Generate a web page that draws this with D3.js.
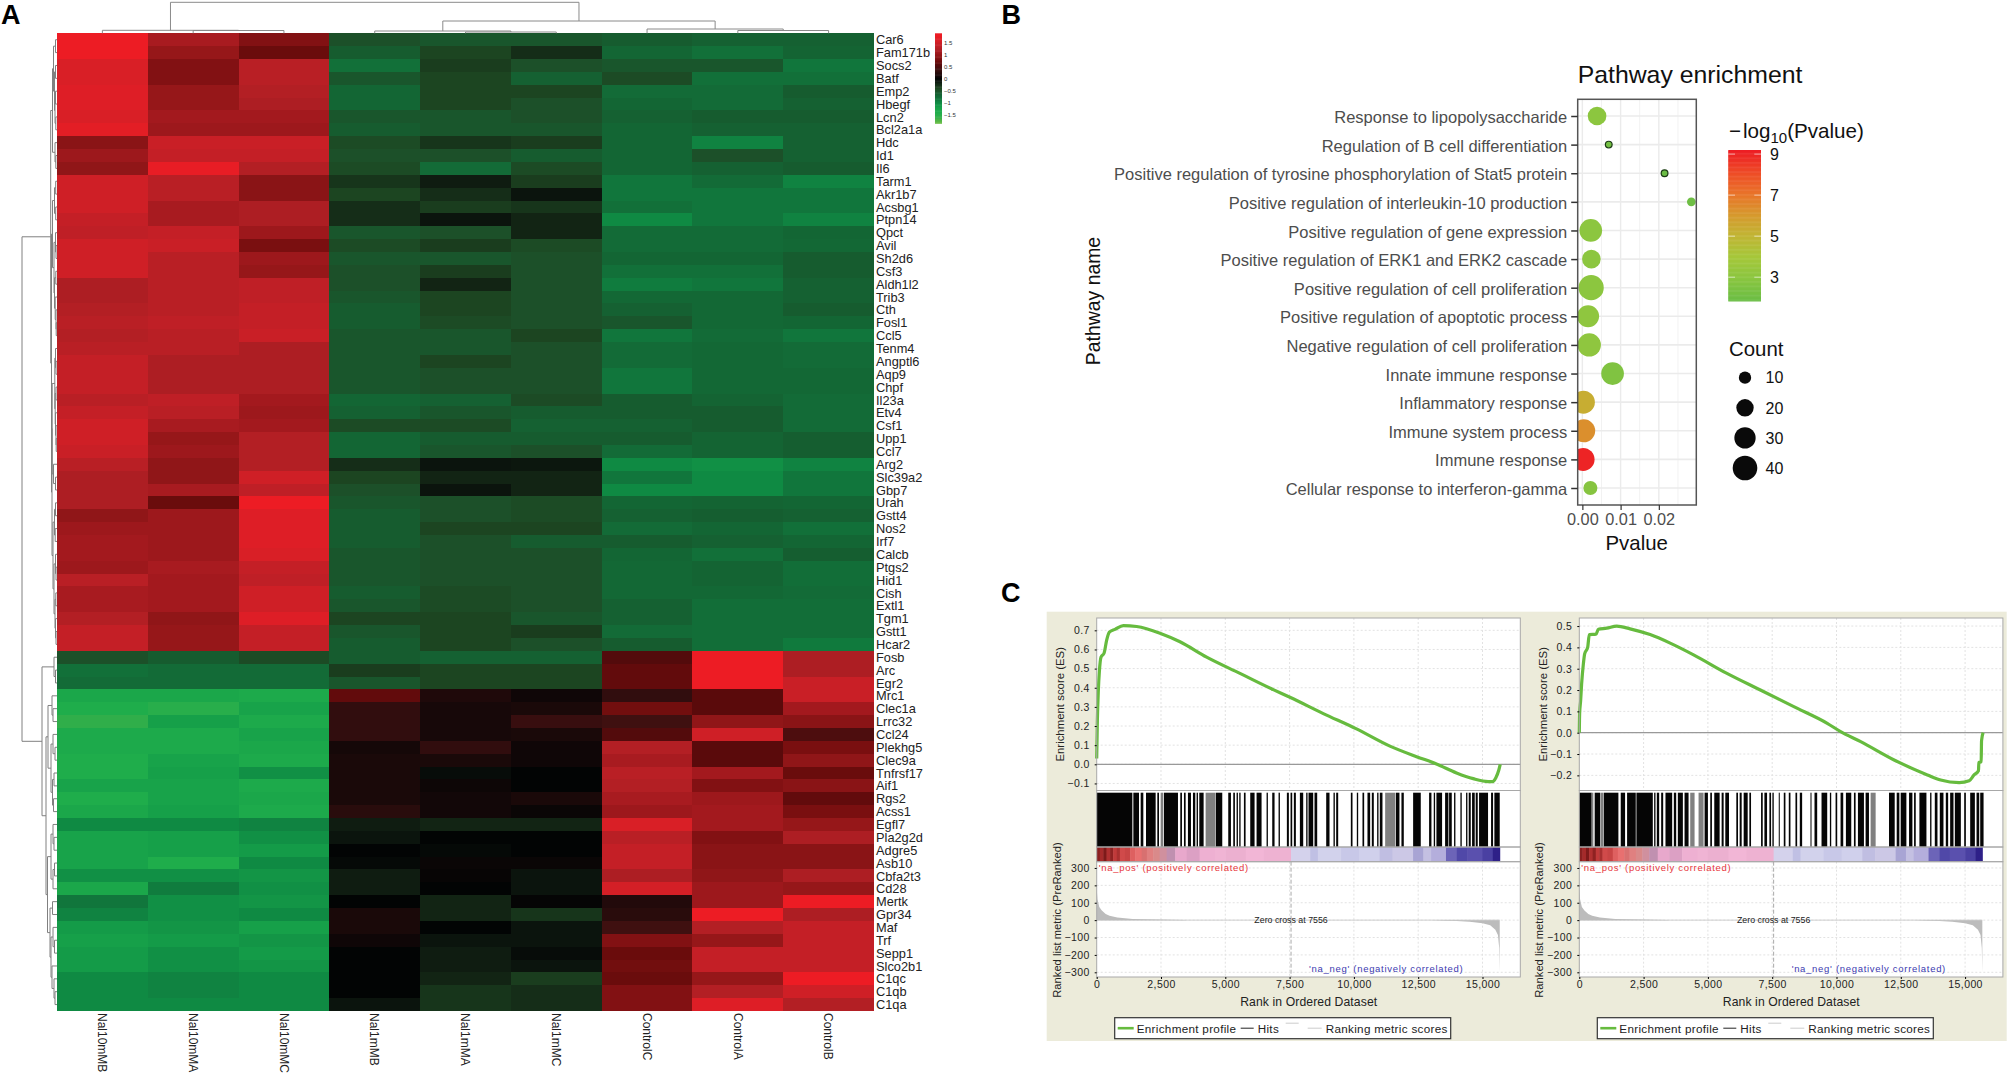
<!DOCTYPE html>
<html>
<head>
<meta charset="utf-8">
<title>Panels A B C</title>
<style>
  body { margin: 0; background: #fff; overflow: hidden; }
  text { font-family: "Liberation Sans", Arial, sans-serif; }
</style>
</head>
<body>
<div class="content"></div>
<script src="https://cdn.jsdelivr.net/npm/d3@7"></script>
<script>
//--> Panel A data
const samples = ["Nal10mMB", "Nal10mMA", "Nal10mMC", "Nal1mMB", "Nal1mMA", "Nal1mMC", "ControlC", "ControlA", "ControlB"];
const genes = ["Car6", "Fam171b", "Socs2", "Batf", "Emp2", "Hbegf", "Lcn2", "Bcl2a1a", "Hdc", "Id1", "Il6", "Tarm1", "Akr1b7", "Acsbg1", "Ptpn14", "Qpct", "Avil", "Sh2d6", "Csf3", "Aldh1l2", "Trib3", "Cth", "Fosl1", "Ccl5", "Tenm4", "Angptl6", "Aqp9", "Chpf", "Il23a", "Etv4", "Csf1", "Upp1", "Ccl7", "Arg2", "Slc39a2", "Gbp7", "Urah", "Gstt4", "Nos2", "Irf7", "Calcb", "Ptgs2", "Hid1", "Cish", "Extl1", "Tgm1", "Gstt1", "Hcar2", "Fosb", "Arc", "Egr2", "Mrc1", "Clec1a", "Lrrc32", "Ccl24", "Plekhg5", "Clec9a", "Tnfrsf17", "Aif1", "Rgs2", "Acss1", "Egfl7", "Pla2g2d", "Adgre5", "Asb10", "Cbfa2t3", "Cd28", "Mertk", "Gpr34", "Maf", "Trf", "Sepp1", "Slco2b1", "C1qc", "C1qb", "C1qa"];

// z-scores per sample, same order as genes
const nal10mMB = [1.8, 1.8, 1.6, 1.6, 1.65, 1.65, 1.6, 1.7, 0.9, 1.05, 0.95, 1.5, 1.5, 1.5, 1.4, 1.35, 1.5, 1.5, 1.5, 1.2, 1.2, 1.25, 1.3, 1.25,
  1.3, 1.4, 1.4, 1.4, 1.3, 1.4, 1.5, 1.5, 1.45, 1.3, 1.2, 1.2, 1.2, 0.95, 1.05, 1.1, 1.1, 1.05, 1.3, 1.15, 1.15, 1.25, 1.4, 1.4,
  -0.5, -0.8, -0.75, -1.3, -1.4, -1.6, -1.35, -1.35, -1.4, -1.4, -1.25, -1.4, -1.3, -1.0, -1.25, -1.25, -1.25, -1.05, -1.3, -0.85, -0.95, -1.15, -1.2, -1.15, -1.15, -1.0, -1.0, -1.0];
const nal10mMA = [1.15, 1.0, 0.85, 0.85, 1.0, 1.0, 1.1, 1.05, 1.45, 1.4, 1.75, 1.3, 1.3, 1.15, 1.15, 1.4, 1.45, 1.3, 1.3, 1.3, 1.3, 1.3, 1.35, 1.3,
  1.3, 1.2, 1.2, 1.2, 1.35, 1.3, 1.15, 1.0, 1.05, 0.95, 0.95, 1.15, 0.7, 1.05, 1.05, 1.05, 1.05, 1.15, 1.1, 1.1, 1.1, 0.95, 1.0, 1.0,
  -0.6, -0.75, -0.75, -1.3, -1.5, -1.2, -1.35, -1.35, -1.25, -1.2, -1.25, -1.25, -1.2, -1.0, -1.2, -1.2, -1.4, -1.05, -0.9, -1.05, -1.05, -1.1, -1.15, -1.05, -1.05, -0.95, -0.95, -1.0];
const nal10mMC = [0.85, 0.7, 1.3, 1.3, 1.25, 1.2, 1.1, 1.05, 1.45, 1.4, 1.25, 0.9, 0.9, 1.2, 1.2, 1.05, 0.8, 1.05, 1.0, 1.35, 1.35, 1.4, 1.4, 1.45,
  1.2, 1.2, 1.2, 1.2, 1.1, 1.05, 1.1, 1.25, 1.25, 1.25, 1.5, 1.35, 1.8, 1.65, 1.65, 1.65, 1.6, 1.4, 1.35, 1.5, 1.5, 1.65, 1.4, 1.4,
  -0.45, -0.75, -0.75, -1.35, -1.25, -1.35, -1.25, -1.3, -1.35, -1.05, -1.35, -1.3, -1.35, -0.95, -1.05, -1.15, -1.0, -1.1, -1.05, -1.1, -1.0, -1.2, -1.1, -1.15, -1.1, -1.0, -1.0, -1.0];
const nal1mMB = [-0.5, -0.6, -0.8, -0.55, -0.7, -0.7, -0.55, -0.6, -0.45, -0.5, -0.45, -0.3, -0.4, -0.25, -0.25, -0.55, -0.45, -0.55, -0.5, -0.5, -0.55, -0.6, -0.6, -0.55,
  -0.55, -0.55, -0.55, -0.55, -0.7, -0.65, -0.45, -0.7, -0.7, -0.25, -0.4, -0.5, -0.55, -0.6, -0.6, -0.6, -0.55, -0.55, -0.55, -0.6, -0.55, -0.4, -0.55, -0.6,
  -0.6, -0.35, -0.55, 0.65, 0.3, 0.3, 0.3, 0.12, 0.15, 0.15, 0.15, 0.15, 0.25, -0.15, -0.1, 0, -0.03, -0.15, -0.15, 0, 0.15, 0.15, 0.08, 0, 0, 0, 0, -0.1];
const nal1mMA = [-0.55, -0.4, -0.35, -0.4, -0.4, -0.4, -0.55, -0.55, -0.3, -0.5, -0.75, -0.15, -0.25, -0.35, -0.1, -0.5, -0.35, -0.55, -0.35, -0.2, -0.4, -0.4, -0.45, -0.55,
  -0.55, -0.4, -0.5, -0.5, -0.65, -0.55, -0.45, -0.6, -0.55, -0.1, -0.2, -0.1, -0.5, -0.5, -0.4, -0.5, -0.5, -0.5, -0.5, -0.45, -0.45, -0.4, -0.4, -0.4,
  -0.65, -0.4, -0.4, 0.18, 0.13, 0.13, 0.13, 0.3, 0.15, -0.05, 0.07, 0.1, 0.1, -0.2, 0, -0.03, 0.05, 0.03, 0, -0.2, -0.2, 0, -0.1, -0.15, -0.15, -0.2, -0.3, -0.3];
const nal1mMC = [-0.55, -0.25, -0.5, -0.65, -0.4, -0.5, -0.5, -0.55, -0.35, -0.6, -0.45, -0.35, -0.1, -0.3, -0.2, -0.2, -0.45, -0.5, -0.5, -0.5, -0.5, -0.5, -0.5, -0.4,
  -0.5, -0.5, -0.5, -0.5, -0.45, -0.6, -0.65, -0.6, -0.5, -0.12, -0.2, -0.2, -0.45, -0.45, -0.4, -0.6, -0.5, -0.5, -0.5, -0.5, -0.5, -0.55, -0.35, -0.5,
  -0.65, -0.4, -0.4, 0.08, 0.15, 0.35, 0.15, 0.08, 0.08, 0, 0, 0.15, 0.05, -0.2, 0, 0, 0.05, -0.1, -0.1, 0.02, -0.3, -0.1, -0.1, -0.05, -0.1, -0.35, -0.25, -0.25];
const controlC = [-0.6, -0.7, -0.55, -0.45, -0.75, -0.7, -0.65, -0.7, -0.7, -0.7, -0.7, -0.85, -0.85, -0.8, -1.0, -0.75, -0.75, -0.7, -0.8, -0.9, -0.72, -0.65, -0.55, -0.85,
  -0.75, -0.75, -0.85, -0.85, -0.6, -0.6, -0.65, -0.6, -0.75, -1.0, -0.85, -1.0, -0.7, -0.65, -0.75, -0.6, -0.7, -0.72, -0.72, -0.72, -0.65, -0.65, -0.75, -0.6,
  0.55, 0.65, 0.65, 0.3, 0.75, 0.4, 0.55, 1.25, 1.15, 1.3, 1.25, 1.15, 1.05, 1.6, 1.3, 1.4, 1.4, 1.2, 1.55, 0.2, 0.25, 0.4, 0.85, 0.7, 0.75, 0.7, 0.85, 0.85];
const controlA = [-0.65, -0.8, -0.55, -0.8, -0.75, -0.75, -0.6, -0.65, -0.95, -0.5, -0.65, -0.75, -0.85, -0.85, -0.85, -0.75, -0.75, -0.7, -0.8, -0.85, -0.72, -0.72, -0.72, -0.75,
  -0.72, -0.72, -0.72, -0.72, -0.68, -0.6, -0.6, -0.68, -0.68, -1.05, -1.0, -1.0, -0.68, -0.62, -0.7, -0.65, -0.8, -0.68, -0.68, -0.72, -0.78, -0.78, -0.78, -0.78,
  1.8, 1.8, 1.8, 0.6, 0.6, 0.95, 1.5, 0.6, 0.6, 1.1, 0.85, 1.05, 1.1, 1.1, 0.85, 0.9, 0.9, 0.95, 1.05, 1.05, 1.8, 1.25, 1.0, 1.4, 1.4, 1.0, 1.25, 1.65];
const controlB = [-0.65, -0.68, -0.85, -0.8, -0.6, -0.65, -0.6, -0.65, -0.65, -0.65, -0.6, -0.95, -0.85, -0.85, -0.95, -0.7, -0.72, -0.6, -0.6, -0.65, -0.65, -0.6, -0.7, -0.85,
  -0.75, -0.75, -0.72, -0.72, -0.75, -0.75, -0.75, -0.62, -0.62, -0.95, -0.85, -0.85, -0.7, -0.65, -0.8, -0.7, -0.62, -0.78, -0.78, -0.75, -0.78, -0.78, -0.78, -0.88,
  1.2, 1.2, 1.45, 1.45, 1.1, 0.9, 0.5, 0.8, 0.95, 0.7, 0.9, 0.65, 0.8, 1.0, 1.2, 0.9, 0.9, 1.2, 1.0, 1.8, 1.2, 1.4, 1.4, 1.4, 1.4, 1.8, 1.5, 1.25];
const sampleValues = [nal10mMB, nal10mMA, nal10mMC, nal1mMB, nal1mMA, nal1mMC, controlC, controlA, controlB];

// dendrograms: [merge height, left, right], a number is a leaf index
const sampleTree = [31, [3, 0, [2.8, 1, 2]], [12.3, [2.3, 3, [1.3, 4, 5]], [4.3, 6, [2.8, 7, 8]]]];
const rowsA = [3.5, [1.5, 0, 1], [2.5, [1.5, 2, 3], [2, [1.5, 4, 5], [1.2, 6, 7]]]];
const rowsB = [2, 8, [1.2, 9, 10]];
const rowsC = [2.5, [1.3, 11, 12], [1.3, 13, 14]];
const rowsD = [3, [1.5, 15, [1, 16, 17]], [2.5, [1.2, 18, 19], [1.8, 20, [1, 21, [0.8, 22, 23]]]]];
const rowsE = [2.2, [1.5, 24, [1, 25, 26]], [1.8, [1, 27, 28], [1.5, 29, [1, 30, [0.8, 31, 32]]]]];
const rowsF = [3.5, 33, [1.5, 34, 35]];
const rowsG = [4, [2.5, [1.5, 36, 37], [1.8, 38, 39]], [3, [1.5, 40, [1, 41, 42]], [2, [1.2, 43, 44], [1.5, 45, [1, 46, 47]]]]];
const rowsH = [3, 48, [1.5, 49, 50]];
const rowsP = [9, [5, 51, [4, 52, 53]], [6, [4, 54, [2, 55, 56]], [4.5, [3, 57, 58], [3.5, 59, 60]]]];
const rowsQ = [9.5, [6, [4, 61, [3, 62, 63]], [4, [2.5, 64, 65], 66]], [7, [4.5, 67, 68], [6, [4, 69, [2.5, 70, 71]], [5, 72, [3, 73, [2, 74, 75]]]]]];
const geneTree = [35,
  [6.3, [4.5, rowsA, rowsB], [5.5, [4.5, rowsC, rowsD], [5, [4.8, rowsE, rowsF], rowsG]]],
  [15, rowsH, [11, rowsP, rowsQ]]];

const heatTicks = [1.5, 1, 0.5, 0, -0.5, -1, -1.5];

//--> Panel B data
const pathways = ["Response to lipopolysaccharide", "Regulation of B cell differentiation", "Positive regulation of tyrosine phosphorylation of Stat5 protein", "Positive regulation of interleukin-10 production", "Positive regulation of gene expression", "Positive regulation of ERK1 and ERK2 cascade", "Positive regulation of cell proliferation", "Positive regulation of apoptotic process", "Negative regulation of cell proliferation", "Innate immune response", "Inflammatory response", "Immune system process", "Immune response", "Cellular response to interferon-gamma"];
const pValues = [0.00384, 0.0069, 0.0215, 0.0285, 0.0022, 0.00236, 0.0023, 0.0015, 0.0018, 0.0079, 0.00026, 0.00035, 0.00018, 0.0021];
const counts = [23, 3, 3, 5, 34, 23, 42, 32, 36, 34, 35, 35, 35, 13];
const logPs = [3, 2.2, 1.9, 2, 3, 3, 3, 3.1, 3.1, 2.6, 5.3, 6.3, 9, 2.8];
const countTicks = [10, 20, 30, 40];
const logTicks = [9, 7, 5, 3];

//--> Panel C data
const esTicksLeft = [0.7, 0.6, 0.5, 0.4, 0.3, 0.2, 0.1, 0, -0.1];
const esTicksRight = [0.5, 0.4, 0.3, 0.2, 0.1, 0, -0.1, -0.2];
const metricTicks = [300, 200, 100, 0, -100, -200, -300];
const rankTicks = [0, 2500, 5000, 7500, 10000, 12500, 15000];

const esLeftRanks = [0, 26, 65, 104, 168, 285, 390, 492, 712, 1036, 1554, 2460, 3238, 4275, 5570, 6865, 7513, 8810, 10100, 11400, 12435, 13210, 13990, 14640, 15220, 15390, 15520, 15635, 15690];
const esLeftScores = [0.03, 0.23, 0.39, 0.485, 0.56, 0.58, 0.65, 0.69, 0.705, 0.725, 0.72, 0.685, 0.64, 0.56, 0.475, 0.39, 0.35, 0.265, 0.185, 0.095, 0.04, 0.002, -0.045, -0.075, -0.09, -0.09, -0.07, -0.03, 0];
const esRightRanks = [0, 13, 52, 91, 156, 208, 325, 390, 650, 740, 1065, 1455, 1975, 2754, 3533, 4443, 5740, 7040, 8340, 9640, 10160, 10940, 12240, 13535, 14050, 14770, 15160, 15350, 15520, 15535, 15625, 15640, 15700];
const esRightScores = [0, 0.09, 0.15, 0.23, 0.32, 0.37, 0.4, 0.46, 0.462, 0.485, 0.49, 0.5, 0.487, 0.46, 0.42, 0.365, 0.278, 0.2, 0.122, 0.044, 0.005, -0.042, -0.128, -0.198, -0.222, -0.234, -0.225, -0.198, -0.178, -0.14, -0.136, -0.037, 0];

const hitsLeft = [[0, 1386], [1425, 1645], [1710, 1813], [1917, 2292], [2357, 2422], [2616, 3160], [3250, 3315], [3393, 3458], [3548, 3665], [3743, 3833], [3885, 3937], [3989, 4157], [4636, 4882], [5115, 5219], [5310, 5374], [5439, 5491], [5543, 5594], [5724, 5789], [5970, 6138], [6216, 6410], [6605, 6656], [6825, 6915], [7071, 7123], [7394, 7472], [7537, 7602], [7666, 7744], [7900, 8029], [8146, 8197], [8236, 8418], [8469, 8573], [8923, 9052], [9207, 9259], [9311, 9389], [9881, 9946], [10114, 10166], [10334, 10399], [10528, 10632], [10697, 10774], [10904, 10956], [11008, 11111], [11629, 11771], [11849, 11940], [12303, 12600], [12924, 13015], [13105, 13157], [13209, 13429], [13546, 13675], [13701, 13805], [13895, 13947], [14141, 14193], [14362, 14413], [14465, 14543], [14595, 14698], [14737, 14815], [14867, 15216], [15333, 15411], [15462, 15670]];
const hitsLeftGrey = [[2486, 2590], [4235, 4623], [11215, 11603]];
const hitsRight = [[0, 481], [598, 805], [961, 1520], [1611, 1780], [1858, 2195], [2221, 2858], [2910, 2962], [3014, 3105], [3183, 3261], [3351, 3611], [3676, 3767], [3832, 4027], [4092, 4248], [4871, 5001], [5092, 5157], [5248, 5456], [5534, 5612], [5677, 5820], [6105, 6170], [6235, 6313], [6391, 6547], [6612, 6677], [7067, 7132], [7197, 7300], [7391, 7456], [7508, 7560], [7755, 7794], [7950, 8015], [8145, 8210], [8405, 8470], [8573, 8664], [8989, 9028], [9145, 9249], [9418, 9639], [9743, 9795], [9964, 10028], [10158, 10262], [10366, 10574], [10678, 10743], [10834, 11067], [11132, 11262], [12042, 12263], [12341, 12444], [12496, 12717], [12821, 12951], [13016, 13081], [13224, 13497], [13640, 13692], [13822, 13926], [14016, 14159], [14250, 14341], [14419, 14549], [14601, 14835], [14965, 15030], [15198, 15380], [15445, 15549], [15588, 15718]];
const hitsRightGrey = [[481, 546], [818, 948], [4313, 4482], [4637, 4832], [11327, 11522]];

const metricRanks = [0, 30, 100, 200, 350, 500, 800, 1400, 2500, 3400, 3500, 13000, 13500, 14000, 14500, 15000, 15300, 15500, 15600, 15650, 15670];
const metricScores = [180, 120, 75, 55, 35, 25, 15, 7, 3, 1, 0, 0, -3, -5, -9, -18, -30, -55, -85, -160, -300];

// rank strip: a colour starts at each rank and runs up to the next one
const stripRanks = [0, 120, 260, 380, 520, 640, 780, 900, 1100, 1300, 1500, 1750, 1950, 2200, 2450, 2720, 3050, 3500, 4000, 4600, 5000, 5800, 6500, 7556, 8300, 8600, 9500, 10200, 11000, 11500, 12300, 12700, 13000, 13580, 14000, 14400, 15000, 15400, 15670];
const stripColors = ["#8a2020", "#a52a2a", "#7e1a1a", "#b03030", "#8f2222", "#c03a3a", "#a83030", "#d04a4a", "#c84545", "#de6060", "#e87070", "#d87070", "#e08080", "#d98a8a", "#d0909e", "#c090b0", "#e8a8cc", "#dca0c4", "#eeb0d2", "#f0b4d4", "#ecb0d0", "#f2b6d6", "#eeb2d2", "#d4d2ec", "#c0c0e4", "#d2d2ec", "#c8c8e8", "#d0d0ec", "#c0bee2", "#ccc8e6", "#a8a4d4", "#c4c0e2", "#b4aedc", "#6c64b8", "#5048a8", "#5a50ae", "#4a40a2", "#2e2088"];

//--> Constants
const width = 2008;
const height = 1076;
const heat = { left: 57, right: 874, top: 33.3, bottom: 1011 };
const bubble = { left: 1577.7, right: 1696.3, top: 99.3, bottom: 505 };

const svg = d3
  .select(".content")
  .append("svg")
  .attr("width", width)
  .attr("height", height);

//--> Helper functions
const addText = (parent, x, y, str, size, fill = "#000", anchor = "start") =>
  parent
    .append("text")
    .attr("x", x)
    .attr("y", y)
    .attr("font-size", size)
    .attr("fill", fill)
    .attr("text-anchor", anchor)
    .text(str);

const addVertical = (parent, x, y, str, size, fill = "#222") =>
  parent
    .append("text")
    .attr("transform", `translate(${x}, ${y}) rotate(-90)`)
    .attr("font-size", size)
    .attr("fill", fill)
    .attr("text-anchor", "middle")
    .text(str);

const treeRoot = tree =>
  d3.hierarchy(tree, d => (Array.isArray(d) ? d.slice(1) : null));

// links of a dendrogram, pos gives a leaf position
const treeSegments = (tree, pos) => {
  const root = treeRoot(tree);
  root.eachAfter(n => {
    n.pos = n.children ? d3.mean(n.children, c => c.pos) : pos(n.data);
    n.h = n.children ? n.data[0] : 0;
  });
  const segs = [];
  root.each(n => {
    if (!n.children) return;
    const [a, b] = n.children;
    segs.push([[a.pos, a.h], [a.pos, n.h], [b.pos, n.h], [b.pos, b.h]]);
  });
  return segs;
};

//--> Panel A: heat map
const panelA = svg.append("g");
const heatColor = d3
  .scaleLinear()
  .domain([-1.85, -1.6, -1.4, -1.2, -1, -0.9, -0.8, -0.7, -0.6, -0.5, -0.4, -0.3, -0.2, -0.1, 0, 0.2, 0.4, 0.6, 0.7, 0.8, 0.9, 1, 1.1, 1.2, 1.3, 1.4, 1.6, 1.8])
  .range(["#6abd45", "#30ae4a", "#1fad4b", "#16a049", "#0f8a43", "#107c3e", "#127039", "#136634", "#165c2f", "#1c5029", "#1c4521", "#17351b", "#122414", "#0b140d", "#020404", "#220a0b", "#3f1010", "#5a0a0b", "#6a0c0c", "#7a0f10", "#8a1416", "#961719", "#a3191e", "#ad1e23", "#b91f25", "#c41f26", "#d91f26", "#ed1c24"])
  .clamp(true);

const xHeat = d3.scaleBand().domain(samples).range([heat.left, heat.right]);
const yHeat = d3.scaleBand().domain(genes).range([heat.top, heat.bottom]);

panelA
  .selectAll("g.column")
  .data(samples)
  .enter()
  .append("g")
  .attr("class", "column")
  .each(function (s, i) {
    d3.select(this)
      .selectAll("rect")
      .data(genes)
      .enter()
      .append("rect")
      .attr("x", xHeat(s))
      .attr("y", d => yHeat(d))
      .attr("width", xHeat.bandwidth())
      .attr("height", yHeat.bandwidth())
      .attr("shape-rendering", "crispEdges")
      .attr("fill", (d, j) => heatColor(sampleValues[i][j]));
  });

genes.forEach(g => {
  addText(panelA, heat.right + 2, yHeat(g) + yHeat.bandwidth() / 2, g, 12.8, "#222").attr("dy", ".36em");
});

samples.forEach(s => {
  panelA
    .append("text")
    .attr("transform", `translate(${xHeat(s) + xHeat.bandwidth() / 2}, ${heat.bottom + 2}) rotate(90)`)
    .attr("dy", ".36em")
    .attr("font-size", 12)
    .attr("fill", "#222")
    .text(s);
});

//--> Panel A: dendrograms
const yTree = d3.scaleLinear().domain([0, 31]).range([heat.top, heat.top - 31]);
const xTree = d3.scaleLinear().domain([0, 35]).range([heat.left, heat.left - 35]);
const treeLine = d3.line();

panelA
  .selectAll("path.sample-tree")
  .data(treeSegments(sampleTree, i => xHeat(samples[i]) + xHeat.bandwidth() / 2))
  .enter()
  .append("path")
  .attr("class", "sample-tree")
  .attr("d", d => treeLine(d.map(p => [p[0], yTree(p[1])])))
  .attr("fill", "none")
  .attr("stroke", "#8a8a8a");

panelA
  .selectAll("path.gene-tree")
  .data(treeSegments(geneTree, i => yHeat(genes[i]) + yHeat.bandwidth() / 2))
  .enter()
  .append("path")
  .attr("class", "gene-tree")
  .attr("d", d => treeLine(d.map(p => [xTree(p[1]), p[0]])))
  .attr("fill", "none")
  .attr("stroke", "#808080");

//--> Panel A: colour key
const yKey = d3.scaleLinear().domain([-1.875, 1.875]).range([123.3, 33.3]);
const key = panelA.append("g");
key
  .selectAll("rect")
  .data(d3.range(-1.85, 1.86, 0.05))
  .enter()
  .append("rect")
  .attr("x", 935)
  .attr("y", d => yKey(d + 0.025))
  .attr("width", 7)
  .attr("height", yKey(0) - yKey(0.05) + 0.5)
  .attr("fill", d => heatColor(d));
key
  .append("g")
  .attr("transform", "translate(942, 0)")
  .call(d3.axisRight(yKey).tickValues(heatTicks).tickFormat(d3.format("")).tickSize(0).tickPadding(2))
  .call(g => g.select(".domain").remove())
  .call(g => g.selectAll("text").attr("font-size", 6).attr("fill", "#333").style("font-family", "Liberation Sans"));

//--> Panel B: bubble chart
const panelB = svg.append("g");
const xP = d3.scaleLinear().domain([-0.00122, 0.0298]).range([bubble.left, bubble.right]);
const yP = d3.scalePoint().domain(pathways).range([116, 488]);
const rCount = d3.scaleSqrt().domain([0, 40]).range([0, 12.3]);
const colorP = d3
  .scaleLinear()
  .domain([1.85, 3, 4, 5, 6, 7, 8, 9.2])
  .range(["#6abd45", "#8cc63f", "#a6c73a", "#c0b534", "#d69a2e", "#e8762a", "#ee4f27", "#ed1c24"]);

panelB
  .append("rect")
  .attr("x", bubble.left)
  .attr("y", bubble.top)
  .attr("width", bubble.right - bubble.left)
  .attr("height", bubble.bottom - bubble.top)
  .attr("fill", "#fff");

panelB
  .selectAll("line.minor")
  .data([0.005, 0.015, 0.025])
  .enter()
  .append("line")
  .attr("class", "minor")
  .attr("x1", d => xP(d))
  .attr("x2", d => xP(d))
  .attr("y1", bubble.top)
  .attr("y2", bubble.bottom)
  .attr("stroke", "#f2f2f2");

panelB
  .selectAll("line.major-x")
  .data([0, 0.01, 0.02])
  .enter()
  .append("line")
  .attr("class", "major-x")
  .attr("x1", d => xP(d))
  .attr("x2", d => xP(d))
  .attr("y1", bubble.top)
  .attr("y2", bubble.bottom)
  .attr("stroke", "#ebebeb")
  .attr("stroke-width", 1.4);

panelB
  .selectAll("line.major-y")
  .data(pathways)
  .enter()
  .append("line")
  .attr("class", "major-y")
  .attr("x1", bubble.left)
  .attr("x2", bubble.right)
  .attr("y1", d => yP(d))
  .attr("y2", d => yP(d))
  .attr("stroke", "#ebebeb")
  .attr("stroke-width", 1.6);

const clip = panelB.append("clipPath").attr("id", "bubble-clip");
clip
  .append("rect")
  .attr("x", bubble.left)
  .attr("y", bubble.top)
  .attr("width", bubble.right - bubble.left)
  .attr("height", bubble.bottom - bubble.top);

panelB
  .append("g")
  .attr("clip-path", "url(#bubble-clip)")
  .selectAll("circle")
  .data(pathways)
  .enter()
  .append("circle")
  .attr("cx", (d, i) => xP(pValues[i]))
  .attr("cy", d => yP(d))
  .attr("r", (d, i) => rCount(counts[i]))
  .attr("fill", (d, i) => colorP(logPs[i]))
  .attr("stroke", (d, i) => (counts[i] === 3 ? "#1c3a16" : "none"))
  .attr("stroke-width", 1.2);

panelB
  .append("rect")
  .attr("x", bubble.left)
  .attr("y", bubble.top)
  .attr("width", bubble.right - bubble.left)
  .attr("height", bubble.bottom - bubble.top)
  .attr("fill", "none")
  .attr("stroke", "#555")
  .attr("stroke-width", 1.5);

panelB
  .append("g")
  .attr("transform", `translate(${bubble.left}, 0)`)
  .call(d3.axisLeft(yP).tickSize(6.5).tickPadding(4))
  .call(g => g.select(".domain").remove())
  .call(g => g.selectAll("line").attr("stroke", "#333").attr("stroke-width", 1.5))
  .call(g => g.selectAll("text").attr("font-size", 16.5).attr("dy", ".4em").attr("fill", "#4d4d4d").style("font-family", "Liberation Sans"));

panelB
  .append("g")
  .attr("transform", `translate(0, ${bubble.bottom})`)
  .call(d3.axisBottom(xP).tickValues([0, 0.01, 0.02]).tickFormat(d3.format(".2f")).tickSize(5).tickPadding(3.4))
  .call(g => g.select(".domain").remove())
  .call(g => g.selectAll("line").attr("stroke", "#333").attr("stroke-width", 1.2))
  .call(g => g.selectAll("text").attr("font-size", 16.3).attr("fill", "#4d4d4d").style("font-family", "Liberation Sans"));

addText(panelB, bubble.left, 83, "Pathway enrichment", 24.8, "#111");
addText(panelB, 1636.7, 550, "Pvalue", 20.4, "#111", "middle");
addVertical(panelB, 1100, 301, "Pathway name", 19.4, "#111");

//--> Panel B: legends
const logTitle = addText(panelB, 1729, 138, "\u2212", 20.6, "#111");
logTitle.append("tspan").attr("dx", 2).text("log");
logTitle.append("tspan").attr("font-size", 15).attr("dy", 5).text("10");
logTitle.append("tspan").attr("dy", -5).text("(Pvalue)");

const yLog = d3.scaleLinear().domain([1.84, 9.2]).range([301, 150]);
panelB
  .selectAll("rect.log-band")
  .data(d3.range(1.84, 9.2, 0.04))
  .enter()
  .append("rect")
  .attr("class", "log-band")
  .attr("x", 1728.3)
  .attr("y", d => yLog(d + 0.04))
  .attr("width", 32.7)
  .attr("height", yLog(0) - yLog(0.04) + 0.5)
  .attr("fill", d => colorP(d));

panelB
  .selectAll("g.log-tick")
  .data(logTicks)
  .enter()
  .append("g")
  .attr("class", "log-tick")
  .each(function (d) {
    const tick = d3.select(this);
    [[1728.3, 1735], [1754.3, 1761]].forEach(([a, b]) => {
      tick.append("line").attr("x1", a).attr("x2", b).attr("y1", yLog(d)).attr("y2", yLog(d)).attr("stroke", "#fff").attr("stroke-opacity", 0.6);
    });
    addText(tick, 1770, yLog(d), d, 16, "#111").attr("dy", ".36em");
  });

addText(panelB, 1729, 356, "Count", 20.4, "#111");
const yCount = d3.scalePoint().domain(countTicks).range([377.7, 468]);
panelB
  .selectAll("circle.count-key")
  .data(countTicks)
  .enter()
  .append("circle")
  .attr("class", "count-key")
  .attr("cx", 1745)
  .attr("cy", d => yCount(d))
  .attr("r", d => rCount(d))
  .attr("fill", "#0a0a0a");
countTicks.forEach(d => {
  addText(panelB, 1765.5, yCount(d), d, 16, "#111").attr("dy", ".36em");
});

//--> Panel C: GSEA plots
const panelC = svg.append("g");
panelC
  .append("rect")
  .attr("x", 1046.7)
  .attr("y", 611.7)
  .attr("width", 960)
  .attr("height", 429.3)
  .attr("fill", "#ecebda");

const styleAxisText = g =>
  g
    .call(s => s.select(".domain").remove())
    .call(s => s.selectAll("text").attr("font-size", 10.5).attr("fill", "#222").attr("letter-spacing", 0.4).style("font-family", "Liberation Sans"));

function drawGsea(opts) {
  const { left, ranks, scores, esTicks, esTop, esZero, hits, greys } = opts;
  const right = left + 423.6;
  const top = 618;
  const esBottom = 790.5;
  const hitTop = 792.7;
  const hitBottom = 847;
  const stripBottom = 861.7;
  const bottom = 977;
  const grid = "#e2e2e2";
  const border = "#a8a8a8";
  const plot = panelC.append("g");

  const x = d3.scaleLinear().domain([0, 16470]).range([left, right]);
  const yEs = d3
    .scaleLinear()
    .domain([(esZero - esBottom) / esTop, (esZero - top) / esTop])
    .range([esBottom, top]);
  const yMetric = d3.scaleLinear().domain([-327, 336]).range([bottom, stripBottom]);

  plot
    .append("rect")
    .attr("x", left)
    .attr("y", top)
    .attr("width", right - left)
    .attr("height", bottom - top)
    .attr("fill", "#fff");

  // dotted grid
  const grids = [
    ...rankTicks.slice(1).map(d => [x(d), top, x(d), esBottom]),
    ...rankTicks.slice(1).map(d => [x(d), stripBottom, x(d), bottom]),
    ...esTicks.map(d => [left, yEs(d), right, yEs(d)]),
    ...metricTicks.map(d => [left, yMetric(d), right, yMetric(d)])
  ];
  plot
    .selectAll("line.grid")
    .data(grids)
    .enter()
    .append("line")
    .attr("class", "grid")
    .attr("x1", d => d[0])
    .attr("y1", d => d[1])
    .attr("x2", d => d[2])
    .attr("y2", d => d[3])
    .attr("stroke", grid)
    .attr("stroke-dasharray", "2 2");

  // ES curve and zero line
  plot
    .append("line")
    .attr("x1", left)
    .attr("x2", right)
    .attr("y1", yEs(0))
    .attr("y2", yEs(0))
    .attr("stroke", "#999")
    .attr("stroke-width", 1.2);

  plot
    .append("path")
    .datum(ranks)
    .attr("d", d3.line().curve(d3.curveMonotoneX).x(d => x(d)).y((d, i) => yEs(scores[i])))
    .attr("fill", "none")
    .attr("stroke", "#66bb3e")
    .attr("stroke-width", 3.2);

  // hits
  [[hits, "#050505"], [greys, "#808080"]].forEach(([list, color]) => {
    plot
      .append("g")
      .selectAll("rect")
      .data(list)
      .enter()
      .append("rect")
      .attr("x", d => x(d[0]))
      .attr("y", hitTop)
      .attr("width", d => x(d[1]) - x(d[0]))
      .attr("height", hitBottom - hitTop)
      .attr("fill", color);
  });

  // rank strip
  plot
    .append("g")
    .selectAll("rect")
    .data(stripColors)
    .enter()
    .append("rect")
    .attr("x", (d, i) => x(stripRanks[i]))
    .attr("y", hitBottom)
    .attr("width", (d, i) => x(stripRanks[i + 1]) - x(stripRanks[i]) + 0.5)
    .attr("height", stripBottom - hitBottom)
    .attr("fill", d => d);

  // ranked metric
  plot
    .append("line")
    .attr("x1", left)
    .attr("x2", x(15670))
    .attr("y1", yMetric(0))
    .attr("y2", yMetric(0))
    .attr("stroke", "#cfcfcf");

  plot
    .append("path")
    .datum(metricRanks)
    .attr("d", d3.area().x(d => x(d)).y0(yMetric(0)).y1((d, i) => yMetric(metricScores[i])))
    .attr("fill", "#bcbcbc");

  plot
    .append("line")
    .attr("x1", x(7556))
    .attr("x2", x(7556))
    .attr("y1", stripBottom)
    .attr("y2", bottom)
    .attr("stroke", "#aaa")
    .attr("stroke-dasharray", "4 2");

  // panel borders
  [[top, esBottom], [esBottom, hitBottom], [hitBottom, stripBottom], [stripBottom, bottom]].forEach(([a, b]) => {
    plot
      .append("rect")
      .attr("x", left)
      .attr("y", a)
      .attr("width", right - left)
      .attr("height", b - a)
      .attr("fill", "none")
      .attr("stroke", border);
  });

  // axes
  plot
    .append("g")
    .attr("transform", `translate(${left}, 0)`)
    .call(d3.axisLeft(yEs).tickValues(esTicks).tickFormat(d3.format(".1f")).tickSize(2).tickPadding(5))
    .call(styleAxisText);
  plot
    .append("g")
    .attr("transform", `translate(${left}, 0)`)
    .call(d3.axisLeft(yMetric).tickValues(metricTicks).tickFormat(d3.format("d")).tickSize(2).tickPadding(5))
    .call(styleAxisText);
  plot
    .append("g")
    .attr("transform", `translate(0, ${bottom})`)
    .call(d3.axisBottom(x).tickValues(rankTicks).tickFormat(d3.format(",d")).tickSize(2).tickPadding(2))
    .call(styleAxisText);

  addVertical(plot, left - 32.7, 704.3, "Enrichment score (ES)", 11.4);
  addVertical(plot, left - 36, 920, "Ranked list metric (PreRanked)", 11.2);
  addText(plot, left + 212, 1006, "Rank in Ordered Dataset", 12.2, "#222", "middle").attr("letter-spacing", 0.1);

  addText(plot, left + 2, 870.7, "'na_pos' (positively correlated)", 9.5, "#e8363c").attr("letter-spacing", 0.7);
  addText(plot, x(7556) + 18, 972, "'na_neg' (negatively correlated)", 9.5, "#3c3ab0").attr("letter-spacing", 0.7);
  addText(plot, x(7556), 922.7, "Zero cross at 7556", 8.8, "#222", "middle");

  // legend
  const leg = plot.append("g").attr("transform", `translate(${left + 18}, 1017.7)`);
  leg
    .append("rect")
    .attr("width", 336)
    .attr("height", 21)
    .attr("fill", "#fff")
    .attr("stroke", "#333")
    .attr("stroke-width", 1.2);
  leg.append("line").attr("x1", 3).attr("x2", 19).attr("y1", 10.5).attr("y2", 10.5).attr("stroke", "#66bb3e").attr("stroke-width", 2.6);
  addText(leg, 22, 15, "Enrichment profile", 11.7, "#222").attr("letter-spacing", 0.3);
  leg.append("line").attr("x1", 126).attr("x2", 139).attr("y1", 10.5).attr("y2", 10.5).attr("stroke", "#222");
  addText(leg, 143, 15, "Hits", 11.7, "#222").attr("letter-spacing", 0.3);
  leg.append("line").attr("x1", 171).attr("x2", 184).attr("y1", 5.5).attr("y2", 5.5).attr("stroke", "#ccc");
  leg.append("line").attr("x1", 193).attr("x2", 207).attr("y1", 10.5).attr("y2", 10.5).attr("stroke", "#ccc");
  addText(leg, 211, 15, "Ranking metric scores", 11.7, "#222").attr("letter-spacing", 0.3);
}

drawGsea({
  left: 1096.7,
  ranks: esLeftRanks,
  scores: esLeftScores,
  esTicks: esTicksLeft,
  esTop: 191.4,
  esZero: 764.3,
  hits: hitsLeft,
  greys: hitsLeftGrey
});

drawGsea({
  left: 1579.3,
  ranks: esRightRanks,
  scores: esRightScores,
  esTicks: esTicksRight,
  esTop: 213.3,
  esZero: 732.7,
  hits: hitsRight,
  greys: hitsRightGrey
});

//--> Panel letters
[["A", 1, 24], ["B", 1001.5, 24], ["C", 1001, 602]].forEach(([s, x, y]) => {
  addText(svg, x, y, s, 27, "#000").attr("font-weight", "bold");
});
</script>
</body>
</html>
